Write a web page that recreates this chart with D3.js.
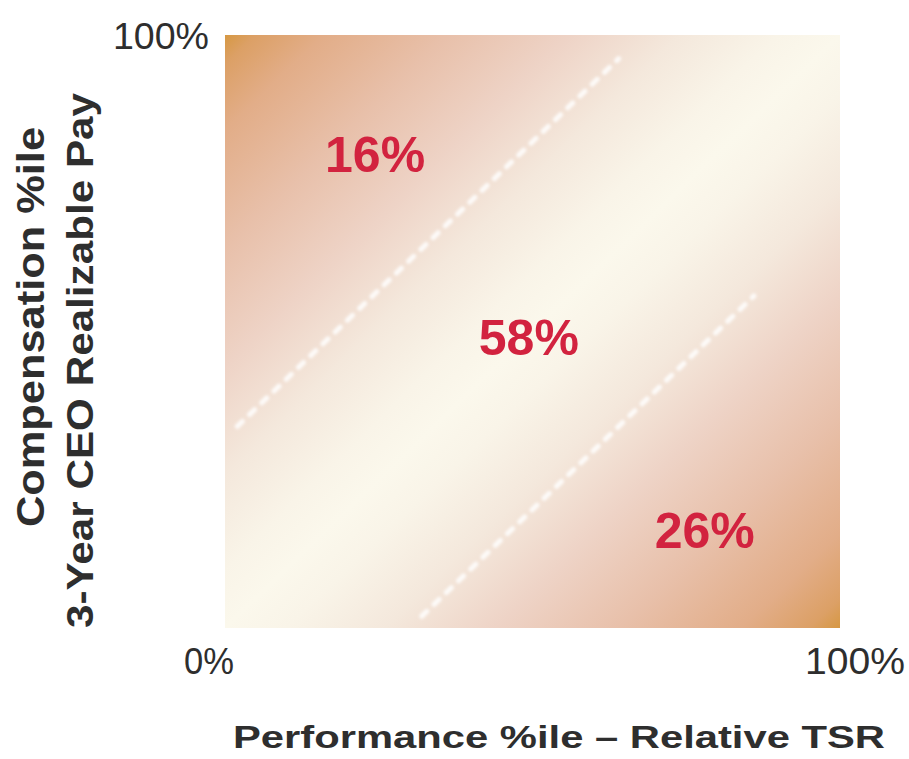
<!DOCTYPE html>
<html>
<head>
<meta charset="utf-8">
<script src="https://cdn.jsdelivr.net/npm/d3@7"></script>
<style>
  html, body { margin: 0; padding: 0; background: #ffffff; }
  svg { display: block; }
  text { font-family: "Liberation Sans", Arial, Helvetica, sans-serif; }
</style>
</head>
<body>
<svg id="chart" width="909" height="759"></svg>
<script>
// Share of companies in each pay-for-performance zone
const zones = ["Pay above performance", "Aligned", "Pay below performance"];
const shares = [16, 58, 26];

// Band edges: compensation percentile minus performance percentile
const bandOffsets = [32, -30];

// Axis ticks (percentiles)
const tickValues = [0, 100];

// Where each share label sits, in percentile units (performance, compensation)
const labelAnchors = [[24.4, 76.9], [49.4, 46.0], [78.0, 13.5]];

const svg = d3.select("#chart");
const plot = { left: 225, top: 35, right: 840, bottom: 628 };

const x = d3.scaleLinear().domain([0, 100]).range([plot.left, plot.right]);
const y = d3.scaleLinear().domain([0, 100]).range([plot.bottom, plot.top]);

const defs = svg.append("defs");

// Diagonal wash: warm corners fading to cream along the diagonal
const grad = defs.append("linearGradient")
  .attr("id", "wash")
  .attr("x1", 0).attr("y1", 0).attr("x2", 1).attr("y2", 1);
const stops = [
  [0.00, "#d69843"], [0.025, "#dca066"], [0.08, "#e2ad88"], [0.18, "#e8c0aa"],
  [0.28, "#eed3c6"], [0.37, "#f4e8dc"], [0.45, "#f9f4e8"], [0.50, "#fbf8ec"],
  [0.55, "#f9f4e8"], [0.63, "#f4e8dc"], [0.72, "#eed3c6"], [0.82, "#e8c0aa"],
  [0.92, "#e2ad88"], [0.975, "#dca066"], [1.00, "#d69843"]
];
grad.selectAll("stop").data(stops).join("stop")
  .attr("offset", d => d[0]).attr("stop-color", d => d[1]);

const blur = defs.append("filter").attr("id", "soft")
  .attr("x", "-10%").attr("y", "-10%").attr("width", "120%").attr("height", "120%");
blur.append("feGaussianBlur").attr("stdDeviation", 1.8);

svg.append("rect")
  .attr("x", x(0)).attr("y", y(100))
  .attr("width", x(100) - x(0)).attr("height", y(0) - y(100))
  .attr("fill", "url(#wash)");

// Dashed band edges, clipped to the square
defs.append("clipPath").attr("id", "plotClip").append("rect")
  .attr("x", x(0)).attr("y", y(100))
  .attr("width", x(100) - x(0)).attr("height", y(0) - y(100));

const bandLines = bandOffsets.map(o => {
  const x0 = Math.max(0, -o) + 2, x1 = Math.min(100, 100 - o) - (o < 0 ? 14 : 4);
  return [[x0, x0 + o], [x1, x1 + o]];
});
const line = d3.line().x(d => x(d[0])).y(d => y(d[1]));
svg.append("g").attr("clip-path", "url(#plotClip)")
  .selectAll("path").data(bandLines).join("path")
  .attr("d", line)
  .attr("fill", "none")
  .attr("stroke", "#ffffff")
  .attr("stroke-opacity", 0.85)
  .attr("stroke-width", 5)
  .attr("stroke-linecap", "round")
  .attr("stroke-dasharray", "7 10")
  .attr("filter", "url(#soft)");

// Share labels
svg.append("g").selectAll("text").data(shares).join("text")
  .attr("x", (d, i) => x(labelAnchors[i][0]))
  .attr("y", (d, i) => y(labelAnchors[i][1]))
  .attr("text-anchor", "middle")
  .attr("font-size", 50)
  .attr("font-weight", "bold")
  .attr("fill", "#d2233f")
  .text(d => d + "%");

// Tick labels at the corners of the square
const fmt = d => d + "%";
const axisColor = "#2e2e2e";
svg.append("text")
  .attr("x", x(tickValues[0]) - 16).attr("y", 674)
  .attr("text-anchor", "middle").attr("font-size", 37).attr("fill", axisColor)
  .attr("textLength", 50).attr("lengthAdjust", "spacingAndGlyphs")
  .text(fmt(tickValues[0]));
svg.append("text")
  .attr("x", x(tickValues[1]) + 15).attr("y", 674)
  .attr("text-anchor", "middle").attr("font-size", 37).attr("fill", axisColor)
  .attr("textLength", 100).attr("lengthAdjust", "spacingAndGlyphs")
  .text(fmt(tickValues[1]));
svg.append("text")
  .attr("x", x(0) - 16).attr("y", y(tickValues[1]) + 14)
  .attr("text-anchor", "end").attr("font-size", 36).attr("fill", axisColor)
  .attr("textLength", 96).attr("lengthAdjust", "spacingAndGlyphs")
  .text(fmt(tickValues[1]));

// Axis titles
svg.append("text")
  .attr("x", 233).attr("y", 748)
  .attr("font-size", 32).attr("font-weight", "bold").attr("fill", axisColor)
  .attr("textLength", 652).attr("lengthAdjust", "spacingAndGlyphs")
  .text("Performance %ile \u2013 Relative TSR");

svg.append("text")
  .attr("transform", "translate(44,527) rotate(-90)")
  .attr("font-size", 38).attr("font-weight", "bold").attr("fill", axisColor)
  .attr("textLength", 400).attr("lengthAdjust", "spacingAndGlyphs")
  .text("Compensation %ile");
svg.append("text")
  .attr("transform", "translate(93,628) rotate(-90)")
  .attr("font-size", 37).attr("font-weight", "bold").attr("fill", axisColor)
  .attr("textLength", 535).attr("lengthAdjust", "spacingAndGlyphs")
  .text("3-Year CEO Realizable Pay");
</script>
</body>
</html>
